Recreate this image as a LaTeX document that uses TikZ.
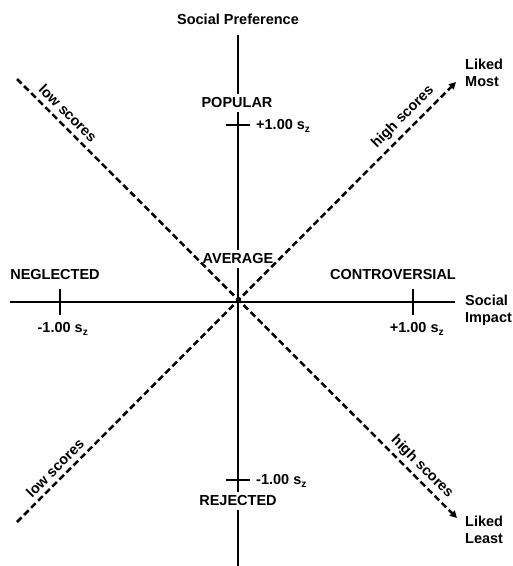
\documentclass[tikz,border=0pt]{standalone}
\usepackage{fontspec}
\setmainfont{Liberation Sans}
\usetikzlibrary{arrows.meta}
\begin{document}
\begin{tikzpicture}[x=1pt,y=-1pt,
  lbl/.style={font=\fontsize{14.5}{16.5}\selectfont\bfseries, inner sep=1pt},
  gaplbl/.style={lbl, fill=white, inner sep=4pt},
  axis/.style={line width=2.8pt},
  tick/.style={line width=2.8pt},
  diag/.style={line width=2.5pt, dash pattern=on 6.5pt off 3.5pt},
  tip/.style={-{Triangle[length=7pt,width=7pt]}}]
\useasboundingbox (0,0) rectangle (513,566);
% axis end points
\coordinate (O) at (238,302);
\coordinate (vtop) at (238,35);
\coordinate (vbot) at (238,566);
\coordinate (hl) at (10,302);
\coordinate (hr) at (455,302);
\draw[axis] (vtop) -- (vbot);
\draw[axis] (hl) -- (hr);
% ticks
\coordinate (tpA) at (226,125); \coordinate (tpB) at (250,125);
\coordinate (trA) at (226,480); \coordinate (trB) at (250,480);
\coordinate (tnA) at (60,289); \coordinate (tnB) at (60,315);
\coordinate (tcA) at (413,289); \coordinate (tcB) at (413,315);
\draw[tick] (tpA) -- (tpB);
\draw[tick] (trA) -- (trB);
\draw[tick] (tnA) -- (tnB);
\draw[tick] (tcA) -- (tcB);
% gap labels on vertical axis
\node[gaplbl] (popular) at (237,103) {POPULAR};
\node[gaplbl] (average) at (238,259) {AVERAGE};
\node[gaplbl] (rejected) at (238,501) {REJECTED};
% diagonals
\coordinate (tl) at (17,79);
\coordinate (br) at (457,518);
\coordinate (bl) at (17,522);
\coordinate (tr) at (456,82);
\draw[diag, tip] (tl) -- (br);
\draw[diag, tip] (bl) -- (tr);
% labels
\node[lbl] (sp) at (238,19) {Social Preference};
\node[lbl, anchor=west, align=left] (si) at (464,310) {Social\\Impact};
\node[lbl, anchor=west, align=left] (lm) at (464,73) {Liked\\Most};
\node[lbl, anchor=west, align=left] (ll) at (464,530) {Liked\\Least};
\node[lbl] (neg) at (55,275) {NEGLECTED};
\node[lbl] (con) at (393,275) {CONTROVERSIAL};
\node[lbl, anchor=west] (pplus) at (255,126) {+1.00 s\textsubscript{z}};
\node[lbl, anchor=west] (rminus) at (255,481) {-1.00 s\textsubscript{z}};
\node[lbl] (nminus) at (63,329) {-1.00 s\textsubscript{z}};
\node[lbl] (cplus) at (417,329) {+1.00 s\textsubscript{z}};
\node[lbl, rotate=-45] (ls1) at (68,113) {low scores};
\node[lbl, rotate=45] (hs1) at (403,117) {high scores};
\node[lbl, rotate=45] (ls2) at (55,468) {low scores};
\node[lbl, rotate=-45] (hs2) at (422,467) {high scores};
\end{tikzpicture}
\end{document}
